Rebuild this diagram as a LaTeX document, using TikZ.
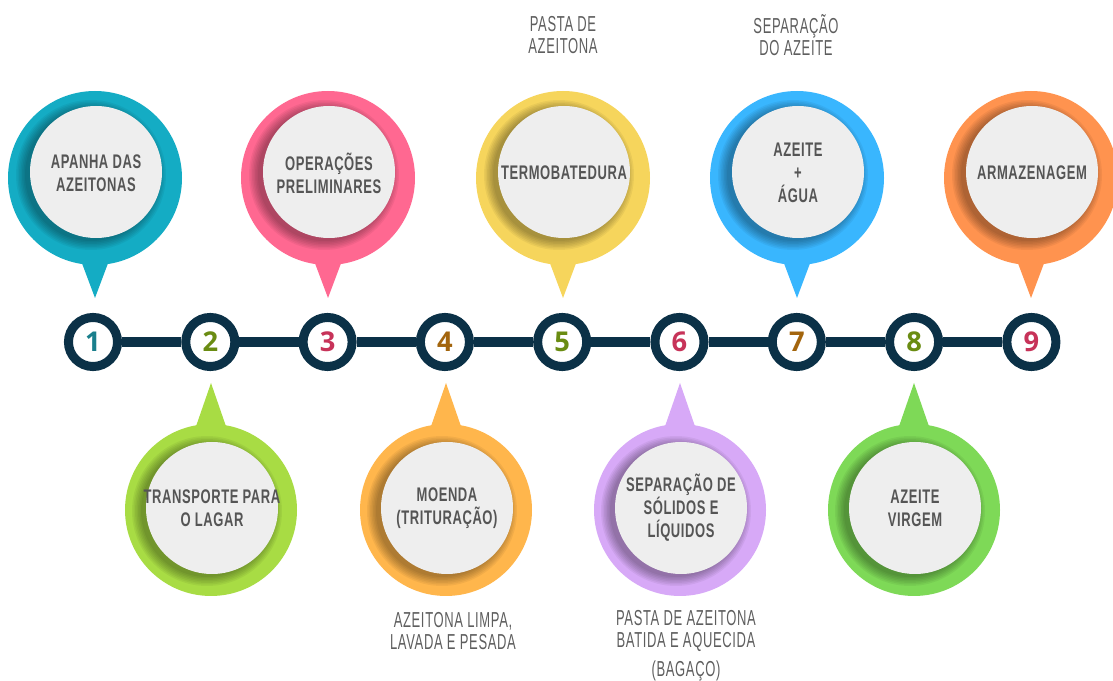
\documentclass[tikz,border=0pt]{standalone}
\usepackage{fontspec}
\usepackage{tikz}
\newfontfamily\pinfont[FakeStretch=0.66,LetterSpace=3]{Liberation Sans}
\newfontfamily\capfont[FakeStretch=0.6,LetterSpace=3]{Liberation Sans}
\newfontfamily\numfont{Open Sans}

\definecolor{pinA}{HTML}{14ACC4}
\definecolor{pinB}{HTML}{A8DC44}
\definecolor{pinC}{HTML}{FF6891}
\definecolor{pinD}{HTML}{FFB64C}
\definecolor{pinE}{HTML}{F6D55C}
\definecolor{pinF}{HTML}{D7A9F7}
\definecolor{pinG}{HTML}{39B6FE}
\definecolor{pinH}{HTML}{7ED957}
\definecolor{pinI}{HTML}{FF934F}
\definecolor{pinin}{HTML}{EEEEEE}
\definecolor{pintxt}{HTML}{555555}
\definecolor{captxt}{HTML}{5E5E5E}
\definecolor{linecol}{HTML}{0B3147}
\definecolor{numA}{HTML}{1A7F8C}
\definecolor{numB}{HTML}{6A8C12}
\definecolor{numC}{HTML}{C73359}
\definecolor{numD}{HTML}{A3650D}

\tikzset{
	pintext/.style={font=\pinfont\bfseries\fontsize{14}{16.3}\selectfont,text=pintxt,align=center,inner sep=0pt},
	captext/.style={font=\capfont\fontsize{15.4}{15.6}\selectfont,text=captxt,align=center,inner sep=0pt},
	numring/.style={circle,draw=linecol,line width=6.4pt,fill=white,minimum size=34.9pt,inner sep=0pt,font=\numfont\bfseries\fontsize{19.4}{20}\selectfont},
	timeline/.style={draw=linecol,line width=7pt}
}

\begin{document}
\begin{tikzpicture}[x=0.025cm,y=-0.025cm]
		\useasboundingbox (0,0) rectangle (1113,681);
		% pins above the line
		\foreach \x/\c/\n/\t in {95/pinA/1/{APANHA DAS\\AZEITONAS},328/pinC/3/{OPERAÇÕES\\PRELIMINARES},563/pinE/5/{TERMOBATEDURA},797/pinG/7/{AZEITE\\+\\ÁGUA},1031/pinI/9/{ARMAZENAGEM}}{
			\fill[\c] (\x-18,250) -- (\x,298) -- (\x+18,250) -- cycle;
			\fill[\c] (\x,178) circle (87);
			\foreach \k in {0,...,6}{
				\fill[black,opacity=0.05] (\x-4,175) circle (66+\k*1.5);
			}
			\fill[pinin] (\x+1,172) circle (66);
			\node[pintext] (t\n) at (\x+1,173) {\t};
		}
		% pins below the line
		\foreach \x/\c/\n/\t in {211/pinB/2/{TRANSPORTE PARA\\O LAGAR},446/pinD/4/{MOENDA\\(TRITURAÇÃO)},680/pinF/6/{SEPARAÇÃO DE\\SÓLIDOS E\\LÍQUIDOS},914/pinH/8/{AZEITE\\VIRGEM}}{
			\fill[\c] (\x-18,435) -- (\x,383) -- (\x+18,435) -- cycle;
			\fill[\c] (\x,510) circle (86);
			\foreach \k in {0,...,6}{
				\fill[black,opacity=0.05] (\x-4,511) circle (66+\k*1.5);
			}
			\fill[pinin] (\x+1,508) circle (66);
			\node[pintext] (t\n) at (\x+1,508) {\t};
		}
		% numbered stops
		\foreach \i/\c in {1/numA,2/numB,3/numC,4/numD,5/numB,6/numC,7/numD,8/numB,9/numC}{
			\pgfmathsetmacro{\x}{93+117.3*(\i-1)}
			\node[numring,text=\c] (n\i) at (\x,342) {\i};
		}
		\foreach \i in {1,...,8}{
			\pgfmathsetmacro{\j}{int(\i+1)}
			\draw[timeline] (n\i) -- (n\j);
		}
		% captions
		\node[captext] (c1) at (563,35) {PASTA DE\\AZEITONA};
		\node[captext] (c2) at (796,35) {SEPARAÇÃO\\DO AZEITE};
		\node[captext] (c3) at (453,631) {AZEITONA LIMPA,\\LAVADA E PESADA};
		\node[captext] (c4) at (686,631) {PASTA DE AZEITONA\\BATIDA E AQUECIDA};
		\node[captext] (c5) at (686,671) {(BAGAÇO)};
	\end{tikzpicture}
\end{document}
